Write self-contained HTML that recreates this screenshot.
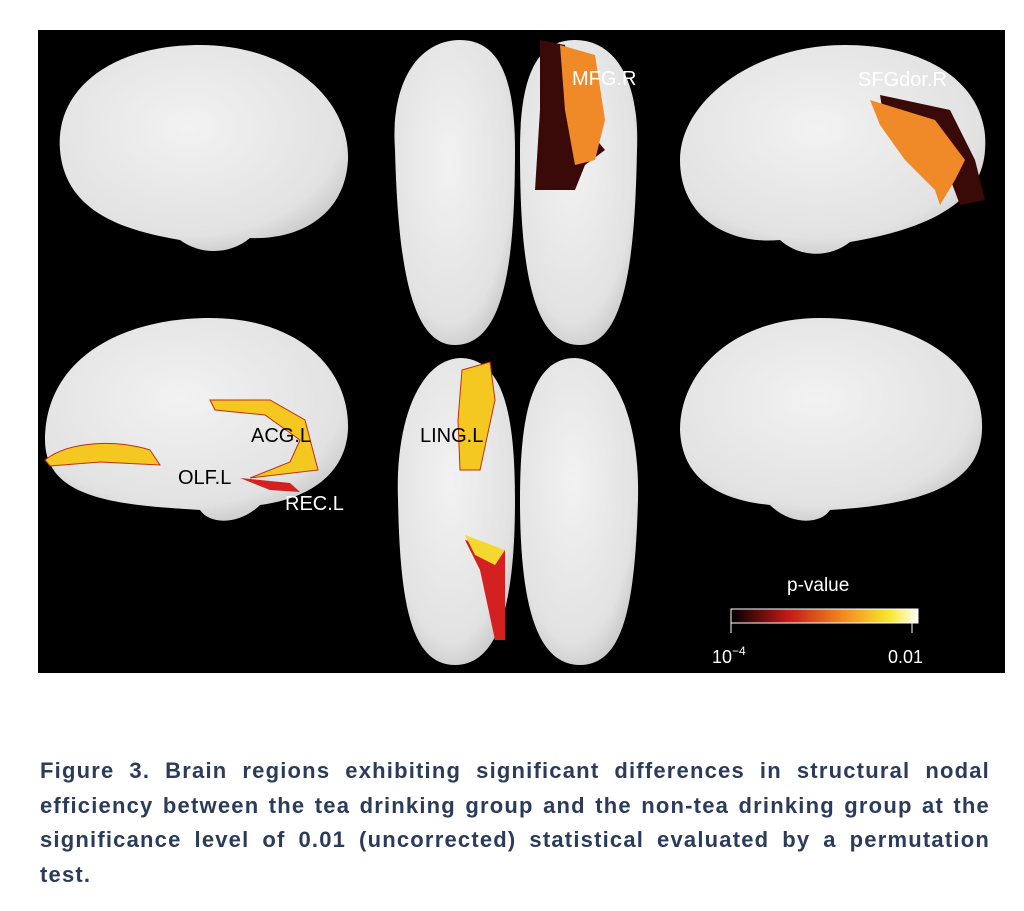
<!DOCTYPE html>
<html><head><style>
body{margin:0;background:#fff;width:1024px;height:911px;overflow:hidden;font-family:"Liberation Sans",sans-serif}
.cap{position:absolute;left:40px;top:754px;width:950px;color:#2b3b5a;font-weight:bold;font-size:22px;line-height:34.5px;letter-spacing:1.2px}
.cap div{text-align:justify;text-align-last:justify;white-space:nowrap}
.cap div.l{text-align-last:left}
</style></head><body>
<svg width="1024" height="911" style="position:absolute;left:0;top:0">
<defs>
<linearGradient id="cb" x1="0" x2="1"><stop offset="0" stop-color="#000"/><stop offset="0.3" stop-color="#c01818"/><stop offset="0.6" stop-color="#f28a20"/><stop offset="0.85" stop-color="#f6e830"/><stop offset="1" stop-color="#fff"/></linearGradient>
<radialGradient id="br" cx="0.45" cy="0.4" r="0.7"><stop offset="0" stop-color="#f2f2f2"/><stop offset="0.75" stop-color="#e2e2e2"/><stop offset="1" stop-color="#bdbdbd"/></radialGradient>
</defs>
<rect x="38" y="30" width="967" height="643" fill="#000"/>
<g fill="url(#br)">
<path d="M60,150 C55,90 110,45 200,45 C290,45 350,100 348,160 C345,215 300,240 250,238 C230,255 200,255 180,240 C120,230 65,210 60,150Z"/>
<path d="M395,150 C390,80 420,40 460,40 C500,40 515,80 515,150 C515,260 505,345 455,345 C410,345 398,260 395,150Z"/>
<path d="M520,150 C520,80 535,40 575,40 C615,40 640,80 637,150 C635,260 625,345 580,345 C530,345 520,260 520,150Z"/>
<path d="M985,150 C990,90 935,45 845,45 C755,45 680,100 680,160 C680,215 725,245 780,240 C800,258 830,258 850,242 C910,232 982,210 985,150Z"/>
<path d="M45,440 C45,360 120,318 210,318 C300,318 350,370 348,430 C345,480 300,500 260,505 C240,525 210,525 200,510 C120,505 45,500 45,440Z"/>
<path d="M398,500 C395,420 420,360 460,358 C505,358 515,420 515,500 C515,600 500,665 455,665 C410,665 400,600 398,500Z"/>
<path d="M520,500 C520,420 530,358 575,358 C615,360 640,420 638,500 C635,600 625,665 580,665 C535,665 520,600 520,500Z"/>
<path d="M982,430 C985,360 910,318 820,318 C735,318 680,370 680,430 C682,480 720,500 770,505 C790,525 820,525 830,510 C910,505 980,490 982,430Z"/>
</g>
<path d="M540,40 L565,45 L580,120 L605,150 L585,165 L575,190 L535,190 L540,110Z" fill="#3a0a08"/>
<path d="M560,45 L595,55 L605,120 L595,160 L575,165 L565,110Z" fill="#f08a28"/>
<path d="M880,95 L950,110 L975,160 L985,200 L960,205 L945,165 L885,125Z" fill="#3a0a08"/>
<path d="M870,100 L935,120 L965,160 L955,180 L940,205 L935,190 L905,160 L880,125Z" fill="#f08a28"/>
<path d="M45,460 C70,440 120,440 150,450 L160,465 L100,462 L50,466Z" fill="#f4c820" stroke="#c03010"/>
<path d="M210,400 L270,400 L305,420 L318,470 L250,478 L290,462 L300,440 L265,415 L215,410Z" fill="#f4c820" stroke="#c03010"/>
<path d="M240,478 L290,483 L300,492 L270,490Z" fill="#d42020"/>
<path d="M462,370 L490,362 L495,400 L480,470 L460,470 L458,420Z" fill="#f4c820" stroke="#c03010"/>
<path d="M465,540 L505,550 L505,640 L495,640 L480,570Z" fill="#d42020"/>
<path d="M465,535 L505,550 L495,565 L475,555Z" fill="#f4d830"/>
<g font-size="20" fill="#000">
<text x="572" y="85" fill="#fff">MFG.R</text>
<text x="858" y="86" fill="#fff">SFGdor.R</text>
<text x="251" y="442">ACG.L</text>
<text x="178" y="484">OLF.L</text>
<text x="285" y="510" fill="#fff">REC.L</text>
<text x="420" y="442">LING.L</text>
</g>
<text x="787" y="591" font-size="19" fill="#fff">p-value</text>
<rect x="731" y="609" width="187" height="14" fill="url(#cb)" stroke="#fff"/>
<line x1="731" y1="623" x2="731" y2="633" stroke="#fff"/><line x1="912" y1="623" x2="912" y2="633" stroke="#fff"/>
<text x="712" y="663" font-size="18" fill="#fff">10<tspan font-size="12" dy="-8">−4</tspan></text>
<text x="888" y="663" font-size="18" fill="#fff">0.01</text>
</svg>
<div class="cap">
<div>Figure 3. Brain regions exhibiting significant differences in structural nodal</div>
<div>efficiency between the tea drinking group and the non-tea drinking group at the</div>
<div>significance level of 0.01 (uncorrected) statistical evaluated by a permutation</div>
<div class="l">test.</div>
</div>
</body></html>
